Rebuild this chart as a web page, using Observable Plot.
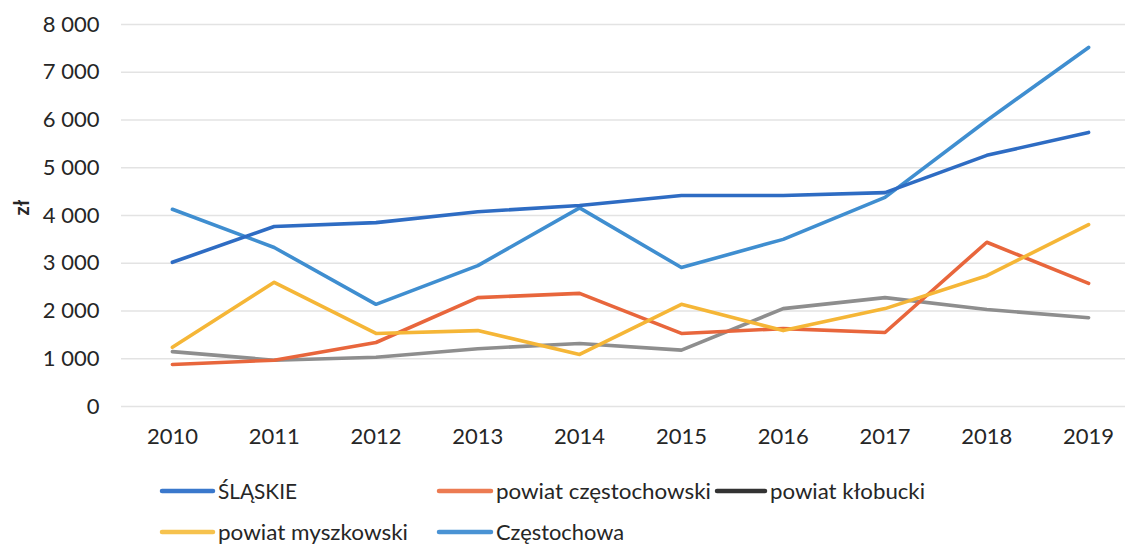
<!DOCTYPE html>
<html><head><meta charset="utf-8">
<script src="https://cdn.jsdelivr.net/npm/d3@7"></script>
<script src="https://cdn.jsdelivr.net/npm/@observablehq/plot@0.6"></script>
</head>
<body style="margin:0;background:#fff;"><div id="wrap" style="position:relative;width:1125px;height:547px;overflow:hidden;"></div>
<script>
const years = [2010,2011,2012,2013,2014,2015,2016,2017,2018,2019];
const seriesNames = ["ŚLĄSKIE","powiat częstochowski","powiat kłobucki","powiat myszkowski","Częstochowa"];
const slaskie = [3020,3770,3850,4080,4210,4420,4420,4480,5260,5740];
const czestochowski = [880,970,1340,2280,2370,1530,1630,1550,3440,2580];
const klobucki = [1150,970,1030,1210,1320,1180,2050,2280,2030,1860];
const myszkowski = [1240,2600,1530,1590,1090,2140,1590,2050,2740,3810];
const czestochowa = [4130,3330,2140,2950,4160,2910,3500,4380,5990,7520];
const yTicks = [0,1000,2000,3000,4000,5000,6000,7000,8000];
const colors = ["#2E6CC3","#E8663C","#8E8E8E","#F5B637","#3F8ED0"];
const legendColors = ["#3A78CC","#EC7B52","#333333","#F6C24E","#4A93D4"];

const values = [slaskie, czestochowski, klobucki, myszkowski, czestochowa];
const data = [];
seriesNames.forEach((s,i)=>years.forEach((y,j)=>data.push({series:s, year:y, value:values[i][j]})));
const drawOrder = ["powiat kłobucki","powiat częstochowski","powiat myszkowski","Częstochowa","ŚLĄSKIE"];
const fmt = d => d3.format(",")(d).replace(/,/g," ");

const chart = Plot.plot({
  width:1125, height:460,
  marginLeft:121, marginRight:0, marginTop:24, marginBottom:54,
  style:{fontFamily:'Lato,sans-serif', color:"#262626", background:"#fff"},
  x:{type:"linear", domain:[2009.5,2019.5], range:[121,1139]},
  y:{domain:[0,8000], range:[406,24]},
  color:{domain:seriesNames, range:colors},
  marks:[
    Plot.ruleY(yTicks,{x1:2009.5,x2:2019.5,stroke:"#e3e3e3",strokeWidth:1.3}),
    Plot.axisX(years,{tickSize:0,tickPadding:22,tickFormat:d=>String(d),fontSize:22,label:null}),
    Plot.axisY(yTicks,{tickSize:0,tickPadding:22,tickFormat:fmt,fontSize:22,label:null}),
    Plot.text(["zł"],{frameAnchor:"left",dx:-99,y:4000,rotate:-90,fontSize:20,fontWeight:"bold",fill:"#262626"}),
    ...drawOrder.map(s=>Plot.line(data.filter(d=>d.series===s),{x:"year",y:"value",stroke:"series",strokeWidth:3.6,strokeLinejoin:"round",strokeLinecap:"round"}))
  ]
});
const wrap = document.getElementById("wrap");
wrap.appendChild(chart);
chart.style.position="absolute"; chart.style.left="0"; chart.style.top="0";

// legend (SVG below the chart)
const legendPos = [[160,491],[437,491],[715,491],[160,532],[437,532]];
const swatchLen = [55,56,52,55,56];
const legendWidths = [79,215,155,190,128];
const lsvg = d3.select(wrap).append("svg")
  .attr("width",1125).attr("height",90)
  .style("position","absolute").style("left","0px").style("top","457px")
  .attr("font-family","Lato,sans-serif");
seriesNames.forEach((s,i)=>{
  const [x,y]=legendPos[i]; const yy=y-457;
  lsvg.append("line").attr("x1",x+2).attr("x2",x+swatchLen[i]-2).attr("y1",yy).attr("y2",yy)
    .attr("stroke",legendColors[i]).attr("stroke-width",4.5).attr("stroke-linecap","round");
  lsvg.append("text").attr("x",x+swatchLen[i]+3).attr("y",yy).attr("dy","0.36em")
    .attr("font-size",21).attr("fill","#262626").text(s)
    .attr("textLength",legendWidths[i]).attr("lengthAdjust","spacingAndGlyphs");
});
</script></body></html>
